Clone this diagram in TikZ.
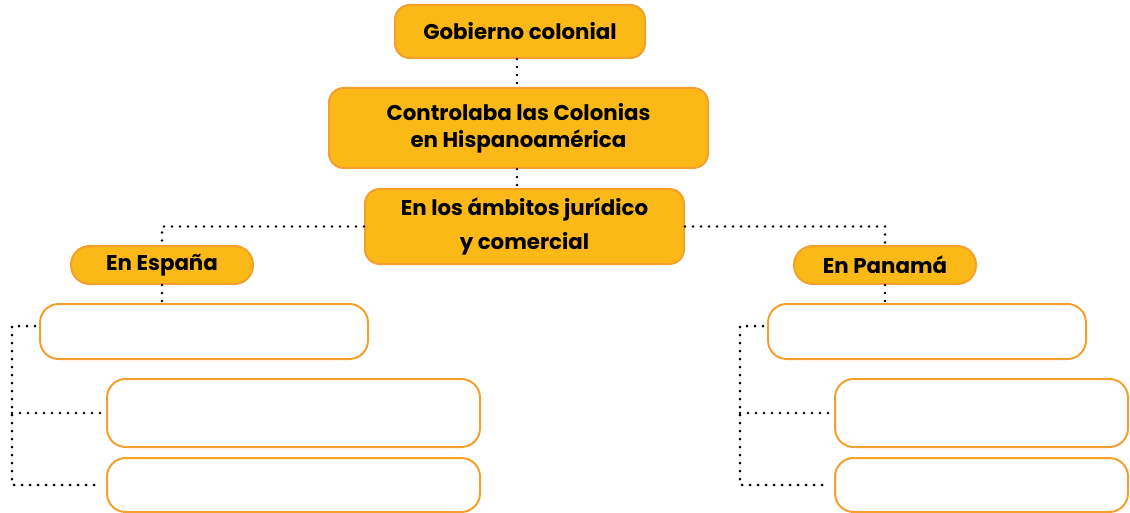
\documentclass[tikz,border=0pt]{standalone}
\usepackage{fontspec}
\setmainfont{Poppins}
\definecolor{fillY}{HTML}{FBB917}
\definecolor{edgeO}{HTML}{F5A02C}
\tikzset{
  x=0.75pt, y=-0.75pt,
  yellowbox/.style={draw=edgeO, fill=fillY, line width=1.5pt, rounded corners=11pt,
    align=center, font=\bfseries\fontsize{16}{20.5}\selectfont, inner sep=0pt},
  pill/.style={yellowbox, rounded corners=14pt},
  emptybox/.style={draw=edgeO, fill=white, line width=1.5pt, rounded corners=14pt, inner sep=0pt},
  dotline/.style={line width=2.2pt, line cap=round, dash pattern=on 0pt off 6pt, black}
}
\begin{document}
\begin{tikzpicture}
\useasboundingbox (0,0) rectangle (1130,513);
\node[yellowbox, minimum width=187.5pt, minimum height=39.75pt] (gob) at (520,31.5) {Gobierno colonial};
\node[yellowbox, minimum width=284.25pt, minimum height=60pt] (ctrl) at (518.5,128) {Controlaba las Colonias\\en Hispanoamérica};
\node[yellowbox, minimum width=239.25pt, minimum height=56.25pt, font=\bfseries\fontsize{16}{25}\selectfont] (amb) at (524.5,226.5) {En los ámbitos jurídico\\y comercial};
\node[pill, minimum width=136.5pt, minimum height=28.5pt] (esp) at (162,265) {En España};
\node[pill, minimum width=136.5pt, minimum height=28.5pt] (pan) at (885,265) {En Panamá};
\node[emptybox, minimum width=246pt, minimum height=41.25pt] (l1) at (204,331.5) {};
\node[emptybox, minimum width=279.75pt, minimum height=51pt] (l2) at (293.5,413) {};
\node[emptybox, minimum width=279.75pt, minimum height=40.5pt] (l3) at (293.5,485) {};
\node[emptybox, minimum width=238.5pt, minimum height=41.25pt] (r1) at (927,331.5) {};
\node[emptybox, minimum width=219.75pt, minimum height=51pt] (r2) at (981.5,413) {};
\node[emptybox, minimum width=219.75pt, minimum height=40.5pt] (r3) at (981.5,485) {};
\coordinate (cx) at (517,0);
\coordinate (lb) at (12,0);
\coordinate (rb) at (740,0);
\draw[dotline] (gob.south -| cx) -- (ctrl.north -| cx);
\draw[dotline] (ctrl.south -| cx) -- (amb.north -| cx);
\draw[dotline] (amb.west) -| (esp.north);
\draw[dotline] (amb.east) -| (pan.north);
\draw[dotline] (esp.south) -- (l1.north -| esp.south);
\draw[dotline] (pan.south) -- (r1.north -| pan.south);
\draw[dotline] ([xshift=-3pt,yshift=4pt]l1.west) -- ([yshift=4pt]l1.west -| lb) -- (l3.west -| lb) -- ([xshift=-3pt]l3.west);
\draw[dotline] (l2.west -| lb) -- ([xshift=-3pt]l2.west);
\draw[dotline] ([xshift=-3pt,yshift=4pt]r1.west) -- ([yshift=4pt]r1.west -| rb) -- (r3.west -| rb) -- ([xshift=-3pt]r3.west);
\draw[dotline] (r2.west -| rb) -- ([xshift=-3pt]r2.west);
\end{tikzpicture}
\end{document}
